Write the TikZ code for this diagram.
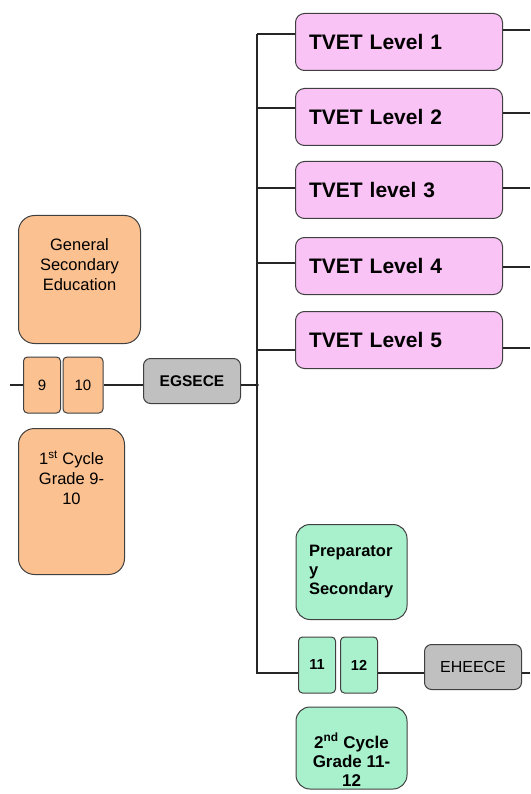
\documentclass[tikz,border=0pt]{standalone}
\usepackage{fontspec}
\setmainfont{Liberation Sans}
\usetikzlibrary{positioning}

\definecolor{peach}{HTML}{FBC190}
\definecolor{lilac}{HTML}{FAC3F6}
\definecolor{mint}{HTML}{A9F1CC}
\definecolor{exam}{HTML}{C0C0C0}

\tikzset{
  box/.style={draw=black!75, line width=1pt, rounded corners=7pt, inner sep=0pt, align=center},
  gen/.style={box, fill=peach, font=\fontsize{16.5}{20}\selectfont},
  tvet/.style={box, fill=lilac, minimum width=207pt, minimum height=57pt,
               rounded corners=9pt, font=\fontsize{21}{24}\selectfont\bfseries,
               text width=180pt, align=left},
  prep/.style={box, fill=mint, font=\fontsize{16.5}{19}\selectfont\bfseries},
  grey/.style={box, fill=exam, minimum width=97pt, minimum height=45pt},
  grade/.style={box, rounded corners=4pt, minimum width=37pt, minimum height=56pt},
  link/.style={draw=black!85, line width=1.3pt},
}

\begin{document}
\begin{tikzpicture}[x=1pt,y=-1pt]
   \useasboundingbox (0,0) rectangle (530,794);

   % general secondary, first cycle
   \node[gen, minimum width=122pt, minimum height=128pt, rounded corners=16pt,
         anchor=north west, text depth=30pt] (gse) at (18,215) {General\\Secondary\\Education};
   \node[gen, grade, fill=peach, font=\fontsize{15}{17}\selectfont] (g9) at (42,385) {9};
   \node[gen, grade, fill=peach, minimum width=40pt, font=\fontsize{15}{17}\selectfont] (g10) at (83,385) {10};
   \node[gen, minimum width=106pt, minimum height=146pt, rounded corners=16pt,
         anchor=north west, text depth=48pt] (cyc1) at (18,428) {1\textsuperscript{st} Cycle\\Grade 9-\\10};
   \node[grey, font=\fontsize{15.5}{17}\selectfont\bfseries] (egsece) at (192,381) {EGSECE};

   % TVET levels
   \node[tvet] (tv1) at (399,42) {TVET Level 1};
   \node[tvet] (tv2) at (399,117) {TVET Level 2};
   \node[tvet] (tv3) at (399,190) {TVET level 3};
   \node[tvet] (tv4) at (399,266) {TVET Level 4};
   \node[tvet] (tv5) at (399,340) {TVET Level 5};

   % preparatory, second cycle
   \node[prep, minimum width=111pt, minimum height=95pt, rounded corners=14pt,
         text width=85pt, align=left] (prep) at (351.5,572)
        {Preparator\\y\\Secondary};
   \node[prep, grade, fill=mint, font=\fontsize{14.5}{16}\selectfont\bfseries] (g11) at (317,665) {11};
   \node[prep, grade, fill=mint, font=\fontsize{14.5}{16}\selectfont\bfseries] (g12) at (359,665) {12};
   \node[prep, minimum width=111pt, minimum height=82pt, rounded corners=14pt,
         font=\fontsize{17}{19}\selectfont\bfseries, text height=78pt, text depth=2pt] (cyc2) at (351.5,748)
        {2\textsuperscript{nd} Cycle\\Grade 11-\\12};
   \node[grey, font=\fontsize{16}{18}\selectfont] (eheece) at (473,667) {EHEECE};

   % connectors
   \coordinate (in) at (10,385);
   \coordinate (top) at (257,34);
   \coordinate (mid) at (257,385);
   \coordinate (bot) at (257,673);
   \draw[link] (in) -- (g9.west |- in);
   \draw[link] (g10.east |- mid) -- (egsece.west |- mid);
   \draw[link] (egsece.east |- mid) -- (mid);
   \fill (mid) circle(1.8pt);
   \draw[link] (top) -- (bot) -- (g11.west |- bot);
   \draw[link] (g12.east |- bot) -- (eheece.west |- bot);
   \draw[link] (eheece.east |- bot) -- (530,673);
   \draw[link] (top) -- (tv1.west |- top);
   \draw[link] (257,108) -- (tv2.west |- 0,108);
   \draw[link] (257,188) -- (tv3.west |- 0,188);
   \draw[link] (257,263) -- (tv4.west |- 0,263);
   \draw[link] (257,350) -- (tv5.west |- 0,350);
   \draw[link] (tv1.east |- 0,30) -- (530,30);
   \draw[link] (tv2.east |- 0,113) -- (530,113);
   \draw[link] (tv3.east |- 0,188) -- (530,188);
   \draw[link] (tv4.east |- 0,267) -- (530,267);
   \draw[link] (tv5.east |- 0,348) -- (530,348);
\end{tikzpicture}
\end{document}
